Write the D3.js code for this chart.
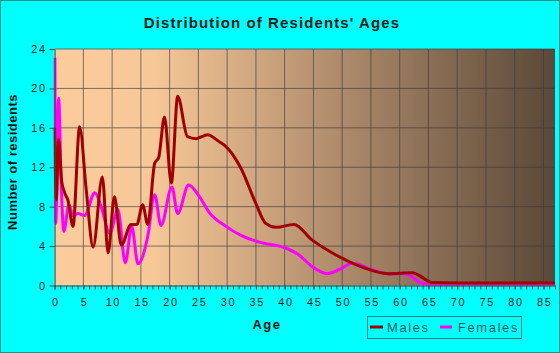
<!DOCTYPE html>
<html>
<head>
<meta charset="utf-8">
<script src="https://cdn.jsdelivr.net/npm/d3@7"></script>
<style>
    body { margin: 0; background: #00ffff; }
    svg { display: block; font-family: Arial, "Liberation Sans", sans-serif; }
    .tick text { font-size: 11px; fill: #222; letter-spacing: 1.5px; }
    .axis path, .axis line { stroke: #444; }
</style>
</head>
<body>
<div id="chart"></div>
<script>

// ages (the curves are smoothed, so points sit at the bumps)
let maleAges = [0, 0.3, 0.7, 1.2, 1.75, 2.3, 3.2, 4.35, 5.5, 6.7, 8.3, 9.3, 10.4, 11.6, 13.3, 14.3, 15.3, 16.2,
    17.4, 18.1, 19.1, 20.3, 21.4, 23.1, 24.6, 26.6, 28.6, 29.8, 32.4, 35, 36.7, 38.5, 41.6, 44.8, 48.3, 52.9,
    58.1, 62.2, 63.3, 65.6, 70, 87];
let maleCounts = [16.0, 8.7, 14.8, 10.7, 9.4, 8.7, 6.0, 16.1, 9.7, 3.9, 11.0, 3.3, 9.0, 4.1, 6.2, 6.2, 8.2, 6.2,
    12.4, 13.0, 17.1, 10.4, 19.2, 15.1, 14.9, 15.3, 14.6, 14.1, 11.9, 8.3, 6.3, 5.9, 6.2, 4.6, 3.3, 2.0,
    1.2, 1.3, 1.05, 0.3, 0.25, 0.25];

let femaleAges = [0.05, 0.2, 0.7, 1.2, 1.6, 2.5, 3.2, 4.1, 5.2, 7.0, 8.1, 9.6, 11.0, 12.3, 13.4, 14.5, 16.2, 17.4,
    18.5, 20.4, 21.4, 23.3, 25.2, 26.9, 29.8, 32.7, 35.6, 40.2, 42.5, 44.8, 47.4, 49.4, 51.8, 55.2, 58.1,
    61.0, 63.9, 66, 87];
let femaleCounts = [23.1, 6.3, 19.0, 9.4, 5.5, 8.2, 7.1, 7.3, 7.1, 9.4, 8.0, 5.3, 7.7, 2.3, 6.0, 2.2, 5.0, 9.2,
    6.1, 10.0, 7.3, 10.2, 9.0, 7.4, 6.0, 5.0, 4.4, 3.8, 3.1, 1.9, 1.2, 1.6, 2.25, 1.6, 1.2,
    1.2, 0.2, 0.1, 0.1];

let xTicks = d3.range(0, 86, 5);
let yTicks = [0, 4, 8, 12, 16, 20, 24];
let seriesNames = ["Males", "Females"];
let seriesColors = ["#a00000", "#ff00ff"];

let W = 560, H = 353;

let svg = d3.select("#chart").append("svg")
    .attr("width", W)
    .attr("height", H);

// outer frame
svg.append("rect")
    .attr("x", 0.5).attr("y", 0.5)
    .attr("width", W - 1).attr("height", H - 1)
    .attr("fill", "#00ffff")
    .attr("stroke", "#2a8c8c");

let x = d3.scaleLinear().domain([0, 87]).range([54.6, 555]);
let y = d3.scaleLinear().domain([0, 24]).range([285.5, 49]);

// plot background gradient
let defs = svg.append("defs");
let grad = defs.append("linearGradient")
    .attr("id", "bg-grad")
    .attr("x1", "0%").attr("y1", "0%")
    .attr("x2", "100%").attr("y2", "0%");
grad.append("stop").attr("offset", "0%").attr("stop-color", "#fccc9c");
grad.append("stop").attr("offset", "20%").attr("stop-color", "#f6c797");
grad.append("stop").attr("offset", "55%").attr("stop-color", "#b28e6e");
grad.append("stop").attr("offset", "100%").attr("stop-color", "#5a4838");

defs.append("clipPath").attr("id", "plot-clip")
    .append("rect")
    .attr("x", x(0) - 1).attr("y", y(24))
    .attr("width", x(87) - x(0) + 1).attr("height", y(0) - y(24));

svg.append("rect")
    .attr("x", x(0)).attr("y", y(24))
    .attr("width", x(87) - x(0)).attr("height", y(0) - y(24))
    .attr("fill", "url(#bg-grad)");

// grid
let grid = svg.append("g").attr("class", "grid");
grid.selectAll(".vgrid")
    .data(xTicks.filter(d => d > 0))
    .enter().append("line")
    .attr("x1", d => x(d)).attr("x2", d => x(d))
    .attr("y1", y(24)).attr("y2", y(0))
    .attr("stroke", "#3c3c3c").attr("stroke-opacity", 0.65);
grid.selectAll(".hgrid")
    .data(yTicks.filter(d => d > 0))
    .enter().append("line")
    .attr("x1", x(0)).attr("x2", x(87))
    .attr("y1", d => y(d)).attr("y2", d => y(d))
    .attr("stroke", "#3c3c3c").attr("stroke-opacity", 0.65);

// lines
let line = d3.line()
    .x(d => x(d[0]))
    .y(d => y(d[1]))
    .curve(d3.curveMonotoneX);

let femaleData = femaleAges.map((a, i) => [a, femaleCounts[i]]);
let maleData = maleAges.map((a, i) => [a, maleCounts[i]]);

let plot = svg.append("g").attr("clip-path", "url(#plot-clip)");
plot.append("path")
    .datum(femaleData)
    .attr("d", line)
    .attr("fill", "none")
    .attr("stroke", seriesColors[1])
    .attr("stroke-width", 3);
plot.append("path")
    .datum(maleData)
    .attr("d", line)
    .attr("fill", "none")
    .attr("stroke", seriesColors[0])
    .attr("stroke-width", 3);

// axes
let xMinor = svg.append("g")
    .attr("class", "axis")
    .attr("transform", `translate(0, ${y(0)})`)
    .call(d3.axisBottom(x).tickValues(d3.range(0, 88, 1)).tickSize(4).tickFormat(""));
xMinor.select(".domain").remove();

let xAxis = svg.append("g")
    .attr("class", "axis")
    .attr("transform", `translate(0, ${y(0)})`)
    .call(d3.axisBottom(x).tickValues(xTicks).tickSize(4).tickSizeOuter(0).tickPadding(9));
xAxis.selectAll(".tick text").attr("dx", "0.75px");

let yAxis = svg.append("g")
    .attr("class", "axis")
    .attr("transform", `translate(${x(0)}, 0)`)
    .call(d3.axisLeft(y).tickValues(yTicks).tickSize(5).tickSizeOuter(0).tickPadding(3));

// titles
svg.append("text")
    .attr("x", 272).attr("y", 28)
    .attr("text-anchor", "middle")
    .style("font-size", "15px")
    .style("font-weight", "bold")
    .style("letter-spacing", "1.1px")
    .style("fill", "#1a1a1a")
    .text("Distribution of Residents' Ages");

svg.append("text")
    .attr("x", 267).attr("y", 329)
    .attr("text-anchor", "middle")
    .style("font-size", "13px")
    .style("font-weight", "bold")
    .style("letter-spacing", "1.5px")
    .style("fill", "#111")
    .text("Age");

svg.append("text")
    .attr("transform", "translate(17, 162) rotate(-90)")
    .attr("text-anchor", "middle")
    .style("font-size", "13px")
    .style("font-weight", "bold")
    .style("letter-spacing", "0.5px")
    .style("fill", "#111")
    .text("Number of residents");

// legend
let legend = svg.append("g").attr("class", "legend");
legend.append("rect")
    .attr("x", 367.5).attr("y", 316.5)
    .attr("width", 154).attr("height", 22)
    .attr("fill", "none")
    .attr("stroke", "#2a7c7c");

let legX = [370, 440];
let legItems = legend.selectAll(".item")
    .data(seriesNames)
    .enter().append("g")
    .attr("transform", (d, i) => `translate(${legX[i]}, 327)`);
legItems.append("line")
    .attr("x1", 0).attr("x2", (d, i) => i === 0 ? 13 : 12)
    .attr("stroke", (d, i) => seriesColors[i])
    .attr("stroke-width", 3);
legItems.append("text")
    .attr("x", (d, i) => i === 0 ? 17 : 18)
    .attr("y", 5)
    .style("font-size", "13px")
    .style("letter-spacing", "1.6px")
    .style("fill", "#1e5a5a")
    .text(d => d);

</script>
</body>
</html>
